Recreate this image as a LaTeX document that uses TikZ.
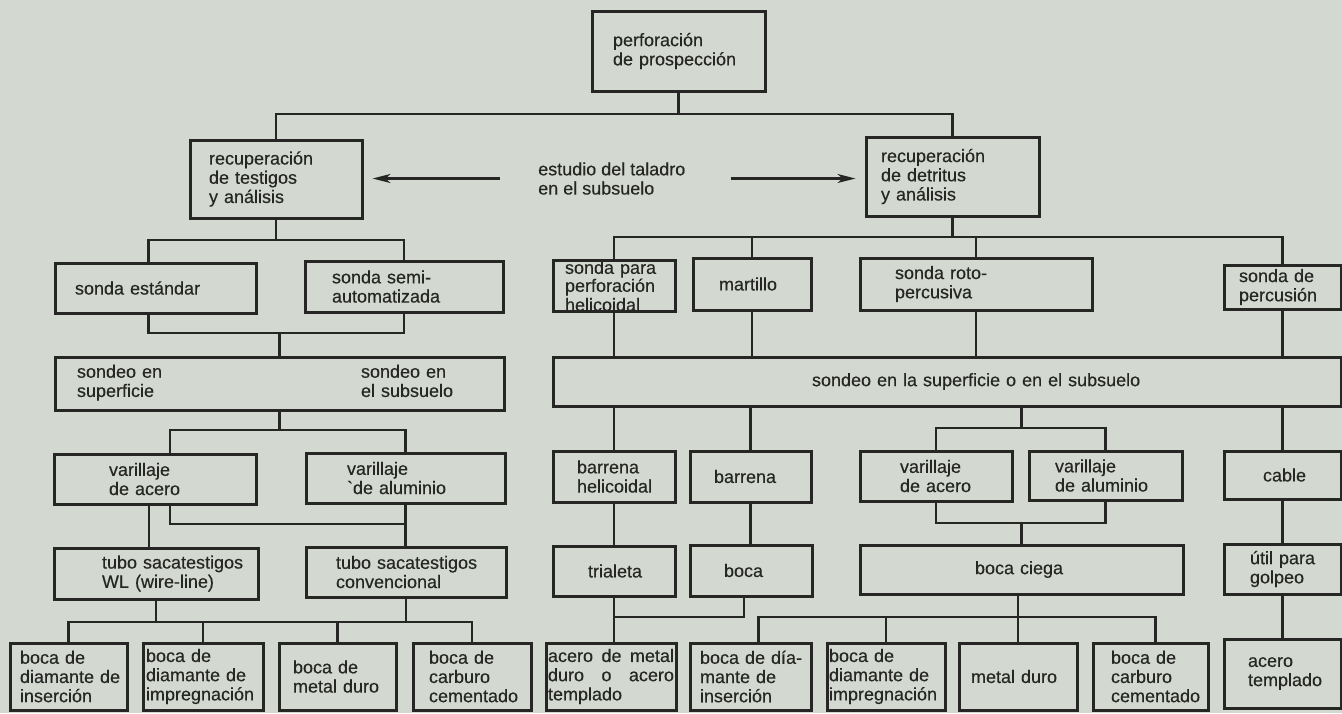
\documentclass[tikz,border=0pt]{standalone}
\usepackage{fontspec}
\setmainfont[FakeBold=0.4]{Liberation Sans}
\usetikzlibrary{arrows.meta,calc}
\definecolor{fondo}{RGB}{211,217,208}
\definecolor{tinta}{RGB}{38,38,36}

\begin{document}
\begin{tikzpicture}[x=1pt,y=-1pt,
  font=\fontsize{18}{19.2}\selectfont,
  caja/.style={draw=tinta,line width=3pt,inner sep=0pt,text=tinta,align=left},
  enlace/.style={draw=tinta,line width=2.2pt},
  flecha/.style={enlace,-{Stealth[length=18pt,width=9pt,inset=5pt]}}]
\fill[fondo] (0,0) rectangle (1342,713);
\useasboundingbox (0,0) rectangle (1342,713);
% cajas: nombre/x1/y1/x2/y2/margen/texto
\foreach \nom/\xa/\ya/\xb/\yb/\p/\t in {
  perf/592/11/765/91/21/{perforación\\de prospección},
  recT/190/140/362/218/19/{recuperación\\de testigos\\y análisis},
  recD/866/137/1039/216/15/{recuperación\\de detritus\\y análisis},
  sondaE/55/263/256/313/20/{sonda estándar},
  sondaS/305/261/503/312/27/{sonda semi-\\automatizada},
  varA/54/454/256/504/55/{varillaje\\de acero},
  varAl/306/453/505/503/41/{varillaje\\\textasciigrave de aluminio},
  tuboWL/54/548/258/599/48/{tubo sacatestigos\\WL (wire-line)},
  tuboC/306/547/506/597/30/{tubo sacatestigos\\convencional},
  b1/10/643/127/710/10/{boca de\\diamante de\\inserción},
  b2/143/643/263/710/3/{boca de\\diamante de\\impregnación},
  b3/279/643/396/710/14/{boca de\\metal duro},
  b4/413/643/531/710/16/{boca de\\carburo\\cementado},
  sPH/553/262/675/310/12/{\fontsize{18}{16.2}\selectfont sonda para\\perforación\\helicoidal},
  mart/693/258/811/310/26/{martillo},
  sRP/860/258/1092/310/35/{sonda roto-\\percusiva},
  sPerc/1224/265/1341/309/15/{sonda de\\percusión},
  sondeoD/553/357/1341/406/259/{sondeo en la superficie o en el subsuelo},
  barH/553/451/675/502/24/{barrena\\helicoidal},
  barr/690/451/811/502/24/{barrena},
  varAD/860/451/1012/501/40/{varillaje\\de acero},
  varAlD/1029/451/1182/500/26/{varillaje\\de aluminio},
  cable/1224/451/1341/499/39/{cable},
  trial/553/546/675/596/35/{trialeta},
  boca/690/545/812/596/34/{boca},
  bocaC/860/545/1183/594/115/{boca ciega},
  util/1224/544/1341/594/26/{útil para\\golpeo},
  r2/690/643/811/710/10/{boca de día-\\mante de\\inserción},
  r3/827/643/945/710/2/{boca de\\diamante de\\impregnación},
  r4/959/643/1077/710/12/{metal duro},
  r5/1093/643/1208/710/18/{boca de\\carburo\\cementado},
  acT/1224/639/1341/708/24/{acero\\templado}}{
  \pgfmathsetmacro\w{\xb-\xa}
  \pgfmathsetmacro\h{\yb-\ya}
  \pgfmathsetmacro\tw{\xb-\xa-4}
  \pgfmathsetmacro\ls{max(\p-2,0)}
  \node[caja,minimum width=\w pt,minimum height=\h pt,text width=\tw pt,
    execute at begin node={\leftskip=\ls pt}]
    (\nom) at ({(\xa+\xb)/2},{(\ya+\yb)/2}) {\t};
}
\node[caja,minimum width=449pt,minimum height=53pt,text width=445pt,
  execute at begin node={\leftskip=20pt}] (sondeoI) at (279.5,383.5)
  {\begin{tabular}{@{}p{284pt}@{}l@{}}sondeo en & sondeo en\\ superficie & el subsuelo\end{tabular}};
\node[caja,minimum width=130pt,minimum height=67pt,text width=126pt,align=justify]
  (r1) at (611,676.5) {acero de metal\linebreak duro o acero\linebreak templado};
\node[text=tinta,align=left,inner sep=0pt,anchor=west] (estudio) at (538,178.5)
  {estudio del taladro\\en el subsuelo};

% buses
\coordinate (bus0) at (0,114);
\coordinate (busL1) at (0,240);
\coordinate (busL2) at (0,333);
\coordinate (busL3) at (0,430);
\coordinate (busL4) at (0,524);
\coordinate (busL5) at (0,622);
\coordinate (busR1) at (0,237);
\coordinate (busR2) at (0,428);
\coordinate (busR3) at (0,523);
\coordinate (busR4) at (0,617);
\coordinate (sEt) at ([xshift=-7pt]sondaE.north);
\coordinate (sEb) at ([xshift=-7pt]sondaE.south);
\coordinate (vAt) at ([xshift=15pt]varA.north);
\coordinate (vAb) at ([xshift=15pt]varA.south);
\coordinate (vAw) at ([xshift=-6pt]varA.south);
\coordinate (bocab) at ([xshift=-7pt]boca.south);
\coordinate (r2t) at ([xshift=8pt]r2.north);
\coordinate (r5t) at ([xshift=5pt]r5.north);

\draw[enlace] (perf.south) -- (perf.south |- bus0);
\draw[enlace] (recT.north) |- (recD.north |- bus0) -- (recD.north);
\draw[flecha,shorten >=9pt] ([xshift=-38pt]estudio.west) -- (recT.east |- estudio.west);
\draw[flecha,shorten >=9pt] ([xshift=45pt]estudio.east) -- (recD.west |- estudio.east);

% testigos
\draw[enlace] (recT.south) -- (recT.south |- busL1);
\draw[enlace] (sEt) |- (sondaS.north |- busL1) -- (sondaS.north);
\draw[enlace] (sEb) |- (sondaS.south |- busL2) -- (sondaS.south);
\draw[enlace] (sondeoI.north) -- (sondeoI.north |- busL2);
\draw[enlace] (sondeoI.south) -- (sondeoI.south |- busL3);
\draw[enlace] (vAt) |- (varAl.north |- busL3) -- (varAl.north);
\draw[enlace] (vAw) -- (vAw |- tuboWL.north);
\draw[enlace] (vAb) |- (varAl.south |- busL4);
\draw[enlace] (varAl.south) -- (varAl.south |- tuboC.north);
\draw[enlace] (tuboWL.south) -- (tuboWL.south |- busL5);
\draw[enlace] (tuboC.south) -- (tuboC.south |- busL5);
\draw[enlace] (b1.north) |- (b4.north |- busL5) -- (b4.north);
\draw[enlace] (b2.north) -- (b2.north |- busL5);
\draw[enlace] (b3.north) -- (b3.north |- busL5);

% detritus
\draw[enlace] (recD.south) -- (recD.south |- busR1);
\draw[enlace] (sPH.north) |- (sPerc.north |- busR1) -- (sPerc.north);
\draw[enlace] (mart.north) -- (mart.north |- busR1);
\draw[enlace] (sRP.north) -- (sRP.north |- busR1);
\foreach \a in {sPH,mart,sRP,sPerc}
  \draw[enlace] (\a.south) -- (\a.south |- sondeoD.north);
\foreach \a in {barH,barr,cable}
  \draw[enlace] (\a.north |- sondeoD.south) -- (\a.north);
\draw[enlace] (bocaC.north |- sondeoD.south) -- (bocaC.north |- busR2);
\draw[enlace] (varAD.north) |- (varAlD.north |- busR2) -- (varAlD.north);
\draw[enlace] (varAD.south) |- (varAlD.south |- busR3) -- (varAlD.south);
\draw[enlace] (bocaC.north |- busR3) -- (bocaC.north);
\draw[enlace] (barH.south) -- (trial.north);
\draw[enlace] (barr.south) -- (barr.south |- boca.north);
\draw[enlace] (cable.south) -- (util.north);
\draw[enlace] (util.south) -- (acT.north);
\draw[enlace] (trial.south) -- (trial.south |- r1.north);
\draw[enlace] (bocab) |- (trial.south |- busR4);
\draw[enlace] (r4.north) -- (r4.north |- bocaC.south);
\draw[enlace] (r2t) |- (r5t |- busR4) -- (r5t);
\draw[enlace] (r3.north) -- (r3.north |- busR4);
\end{tikzpicture}
\end{document}
